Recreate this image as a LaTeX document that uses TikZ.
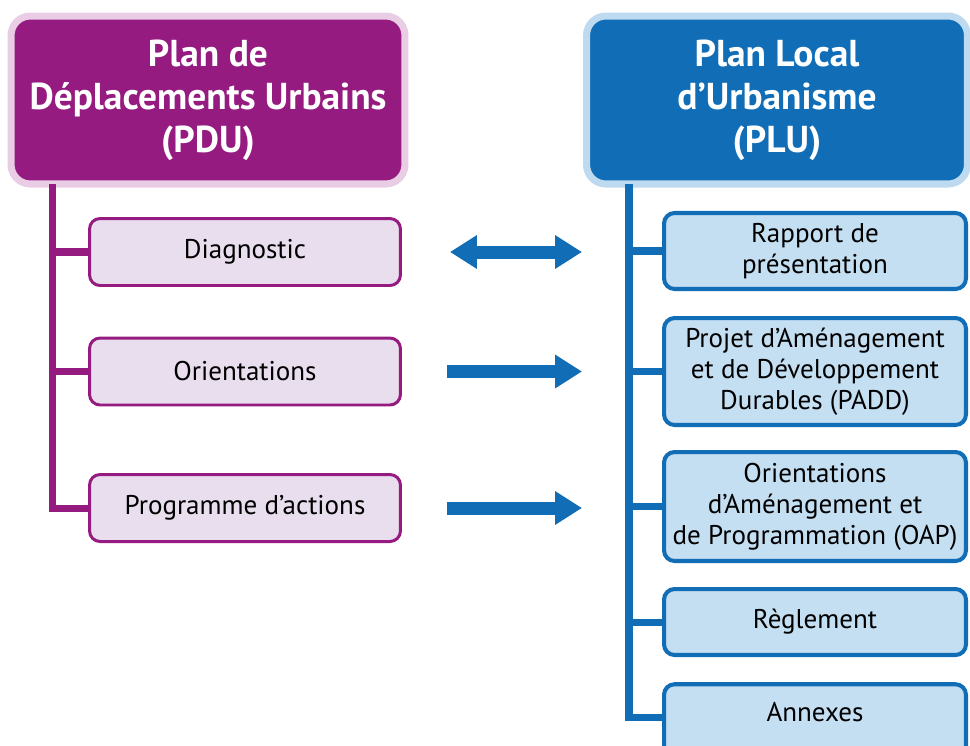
\documentclass[tikz,border=0pt]{standalone}
\usepackage{fontspec}
\setmainfont{PT Sans}
\definecolor{pduviolet}{RGB}{149,27,128}
\definecolor{pdurose}{RGB}{233,205,229}
\definecolor{pdufond}{RGB}{233,222,238}
\definecolor{plubleu}{RGB}{17,110,182}
\definecolor{plubord}{RGB}{190,218,240}
\definecolor{plufond}{RGB}{196,222,242}
\usetikzlibrary{arrows.meta, positioning, calc}

\begin{document}
\begin{tikzpicture}[x=0.02cm, y=-0.02cm,
    titre/.style={line width=4pt, rounded corners=11pt, text=white, inner sep=0pt,
      font=\bfseries\fontsize{21.3}{24.4}\selectfont, align=center, minimum height=3.36cm},
    titrepdu/.style={titre, draw=pdurose, fill=pduviolet, minimum width=7.88cm},
    titreplu/.style={titre, draw=plubord, fill=plubleu, minimum width=7.62cm},
    boite/.style={rounded corners=6pt, inner sep=0pt, align=center,
      font=\fontsize{15.4}{17.6}\selectfont},
    boitepdu/.style={boite, draw=pduviolet, fill=pdufond, line width=1.7pt,
      minimum width=6.22cm, minimum height=1.34cm},
    boiteplu/.style={boite, draw=plubleu, fill=plufond, line width=2.3pt,
      minimum width=6.04cm},
    tronc/.style={line width=4pt},
    fleche/.style={plubleu, line width=7.4pt, shorten >=1.6cm,
      -{Triangle[length=15.3pt, width=18.1pt]}}]
  \clip (0,0) rectangle (970,745);

  % Titres
  \node[titrepdu] (pdu) at (208,100) {Plan de\\Déplacements Urbains\\(PDU)};
  \node[titreplu] (plu) at (777,100) {Plan Local\\d’Urbanisme\\(PLU)};

  % PDU
  \node[boitepdu] (diag) at (245,252) {Diagnostic};
  \node[boitepdu] (orient) at (245,371.5) {Orientations};
  \node[boitepdu] (prog) at (245,508) {Programme d’actions};

  % PLU
  \node[boiteplu, minimum height=1.52cm] (rapport) at (815,251) {Rapport de\\présentation};
  \node[boiteplu, minimum height=2.14cm] (padd) at (815,371.5) {Projet d’Aménagement\\et de Développement\\Durables (PADD)};
  \node[boiteplu, minimum height=2.18cm] (oap) at (815,506.5) {Orientations\\d’Aménagement et\\de Programmation (OAP)};
  \node[boiteplu, minimum height=1.32cm] (regl) at (815,622) {Règlement};
  \node[boiteplu, text height=21pt, text depth=22pt] (annexes) at (815,722) {Annexes};

  % Troncs et branches
  \coordinate (troncpdu) at (52.5,184);
  \coordinate (troncplu) at (629,184);
  \draw[tronc, pduviolet] (troncpdu) |- (prog.west);
  \draw[tronc, pduviolet] (troncpdu |- diag.west) -- (diag.west);
  \draw[tronc, pduviolet] (troncpdu |- orient.west) -- (orient.west);
  \draw[tronc, plubleu] (troncplu) |- (annexes.west |- 0,717);
  \foreach \b in {rapport, padd, oap, regl}
    \draw[tronc, plubleu] (troncplu |- \b.west) -- (\b.west);

  % Fleches
  \draw[fleche, shorten <=0.96cm, {Triangle[length=15.3pt, width=18.1pt]}-{Triangle[length=15.3pt, width=18.1pt]}]
    (diag.east) -- (diag.east -| rapport.west);
  \draw[fleche, shorten <=0.9cm] (orient.east) -- (orient.east -| padd.west);
  \draw[fleche, shorten <=0.9cm] (prog.east) -- (prog.east -| oap.west);
\end{tikzpicture}
\end{document}
